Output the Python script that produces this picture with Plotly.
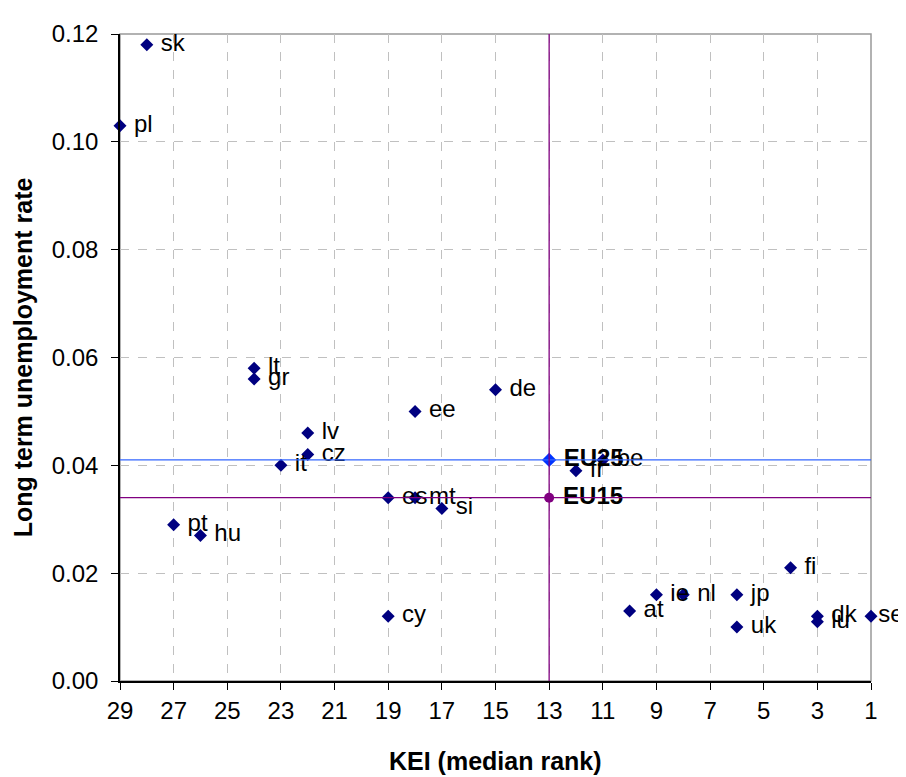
import plotly.graph_objects as go

# Countries: KEI median rank vs long term unemployment rate
countries = ["sk", "pl", "lt", "gr", "lv", "cz", "it", "ee", "de", "fr", "be",
             "es", "mt", "si", "pt", "hu", "cy", "fi", "jp", "uk", "ie", "nl",
             "at", "dk", "lu", "se"]
kei_rank = [28, 29, 24, 24, 22, 22, 23, 18, 15, 12, 11,
            19, 18, 17, 27, 26, 19, 4, 6, 6, 9, 8,
            10, 3, 3, 1]
lt_unemp = [0.118, 0.103, 0.058, 0.056, 0.046, 0.042, 0.040, 0.050, 0.054, 0.039, 0.041,
            0.034, 0.034, 0.032, 0.029, 0.027, 0.012, 0.021, 0.016, 0.010, 0.016, 0.016,
            0.013, 0.012, 0.011, 0.012]

# EU averages
eu_names = ["EU25", "EU15"]
eu_rank = [13, 13]
eu_unemp = [0.041, 0.034]

x_ticks = list(range(29, 0, -2))
y_ticks = [0.00, 0.02, 0.04, 0.06, 0.08, 0.10, 0.12]

FONT = "Liberation Sans, Arial, sans-serif"
NAVY = "#000080"
BLUE = "#3366FF"
PURPLE = "#800080"

fig = go.Figure()

# reference lines through the EU points
fig.add_hline(y=eu_unemp[0], line=dict(color=BLUE, width=1.3))
fig.add_hline(y=eu_unemp[1], line=dict(color=PURPLE, width=1.3))
fig.add_vline(x=eu_rank[1], line=dict(color=PURPLE, width=1.3))

# the label at the right edge sits tight to its marker
labels = [c if c == "se" else " " + c for c in countries]

fig.add_trace(go.Scatter(
    x=kei_rank, y=lt_unemp, mode="markers+text",
    text=labels, textposition="middle right",
    textfont=dict(family=FONT, size=24, color="black"),
    marker=dict(symbol="diamond", size=10, color=NAVY),
    showlegend=False, cliponaxis=False,
))

fig.add_trace(go.Scatter(
    x=eu_rank[:1], y=eu_unemp[:1], mode="markers+text",
    text=[" <b>" + eu_names[0] + "</b>"], textposition="middle right",
    textfont=dict(family=FONT, size=24, color="black"),
    marker=dict(symbol="diamond", size=11, color="#0033FF"),
    showlegend=False, cliponaxis=False,
))
fig.add_trace(go.Scatter(
    x=eu_rank[1:], y=eu_unemp[1:], mode="markers+text",
    text=[" <b>" + eu_names[1] + "</b>"], textposition="middle right",
    textfont=dict(family=FONT, size=24, color="black"),
    marker=dict(symbol="circle", size=10, color=PURPLE),
    showlegend=False, cliponaxis=False,
))

# gray frame on top/right
fig.add_shape(type="rect", xref="paper", yref="paper", x0=0, x1=1, y0=0, y1=1,
              line=dict(color="#999999", width=1.5), layer="below")

# x axis title placed as an annotation so it does not push the margin
fig.add_annotation(text="<b>KEI (median rank)</b>", xref="paper", yref="paper",
                   x=0.5, y=0, yanchor="top", yshift=-64, showarrow=False,
                   font=dict(family=FONT, size=25, color="black"))

# page body has an 8px margin, so the figure is 8px smaller than the window
fig.update_layout(
    width=898, height=769,
    margin=dict(l=112, r=35, t=16, b=96),
    plot_bgcolor="white", paper_bgcolor="white",
    font=dict(family=FONT, size=24, color="black"),
)
fig.update_xaxes(
    range=[29, 1], tickvals=x_ticks, ticks="outside", ticklen=7,
    tickcolor="black", showline=True, linecolor="black", linewidth=1.5,
    ticklabelstandoff=0,
    showgrid=True, gridcolor="#c0c0c0", griddash="dash", zeroline=False,
)
fig.update_yaxes(
    range=[0, 0.12], tickvals=y_ticks, tickformat=".2f", ticks="outside",
    ticklen=7, tickcolor="black", showline=True, linecolor="black", linewidth=1.5,
    ticklabelstandoff=8,
    showgrid=True, gridcolor="#c0c0c0", griddash="dash", zeroline=False,
    title=dict(text="<b>Long term unemployment rate</b>", font=dict(size=25), standoff=12),
)

fig.write_html("out.html")
